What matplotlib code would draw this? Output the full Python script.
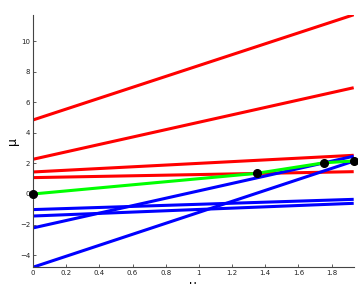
import matplotlib
matplotlib.use("Agg")
import matplotlib.pyplot as plt

# line end points (value at x = 0 and at x = x_end)
x_end = 1.933
red_start = [4.84, 2.27, 1.44, 1.07]
red_end = [11.72, 6.95, 2.53, 1.46]
blue_start = [-1.02, -1.44, -2.22, -4.79]
blue_end = [-0.35, -0.61, 2.47, 2.15]

# path (green) and its breakpoints
path_x = [0, 1.348, 1.754, 1.933]
path_y = [0, 1.35, 2.04, 2.16]

xticks = [0, 0.2, 0.4, 0.6, 0.8, 1, 1.2, 1.4, 1.6, 1.8]
yticks = [-4, -2, 0, 2, 4, 6, 8, 10]

fig = plt.figure(figsize=(3.58, 2.84), dpi=100)
ax = fig.add_axes([0.092, 0.059, 0.896, 0.889])

for y0, y1 in zip(red_start, red_end):
    ax.plot([0, x_end], [y0, y1], color='#ff0000', lw=2.2, solid_capstyle='butt')
for y0, y1 in zip(blue_start, blue_end):
    ax.plot([0, x_end], [y0, y1], color='#0000ff', lw=2.2, solid_capstyle='butt')
ax.plot(path_x, path_y, color='#00ff00', lw=2.2, solid_capstyle='butt')
ax.plot(path_x, path_y, 'o', color='black', ms=5.5, clip_on=False, zorder=5)

ax.set_xlim(0, x_end)
ax.set_ylim(-4.79, 11.72)
ax.set_xticks(xticks)
ax.set_xticklabels([f'{t:g}' for t in xticks])
ax.set_yticks(yticks)
ax.set_yticklabels([f'{t:g}'.replace('-', '\u2212') for t in yticks])

for s in ['top', 'right']:
    ax.spines[s].set_visible(False)
for s in ['left', 'bottom']:
    ax.spines[s].set_color('#444444')
    ax.spines[s].set_linewidth(0.8)
ax.tick_params(direction='in', length=2.5, width=0.6, colors='#444444',
               labelsize=5, labelcolor='#222222', pad=2)

ax.set_ylabel('\u03bc', fontsize=9, labelpad=1)
ax.set_xlabel('\u03bc', fontsize=9, labelpad=2)

fig.savefig('out.png', dpi=100)
